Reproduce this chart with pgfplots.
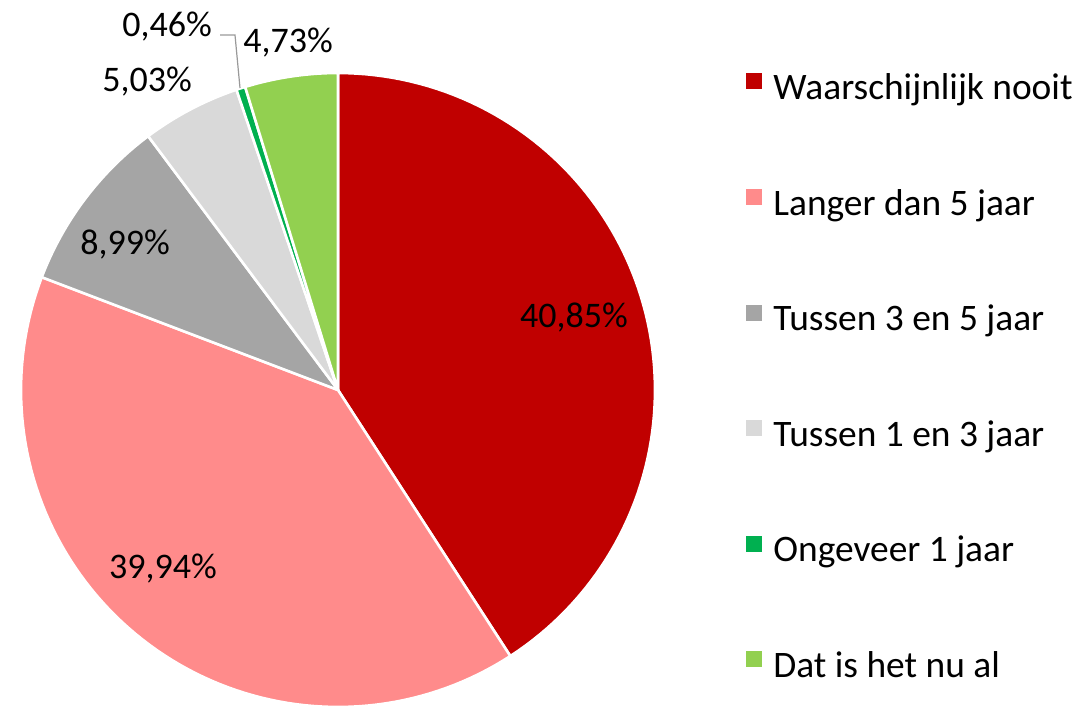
\documentclass[border=0pt]{standalone}
\usepackage{fontspec}
\setmainfont{Carlito}
\usepackage{pgfplots}
\pgfplotsset{compat=1.18}
\definecolor{c1}{HTML}{C00000}
\definecolor{c2}{HTML}{FF8B8B}
\definecolor{c3}{HTML}{A5A5A5}
\definecolor{c4}{HTML}{D9D9D9}
\definecolor{c5}{HTML}{00B050}
\definecolor{c6}{HTML}{92D050}
\def\cum{0}
\newcommand\pieslice[3]{%
  \pgfmathsetmacro\aS{90-3.6*\cum}%
  \pgfmathsetmacro\aE{90-3.6*(\cum+#1)}%
  \edef\doplot{\noexpand\addplot[fill=#2, draw=white, line width=1.3pt, line join=round, domain=\aE:\aS, samples=90]}%
  \doplot ({338+317*cos(x)},{318+317*sin(x)}) -- (axis cs:338,318) -- cycle;
  \addlegendentry{#3}%
  \pgfmathsetmacro\newcum{\cum+#1}\xdef\cum{\newcum}}
\begin{document}
\begin{tikzpicture}
\begin{axis}[
  x=0.5pt, y=0.5pt, scale only axis,
  xmin=0, xmax=1081, ymin=0, ymax=708,
  hide axis, clip=false,
  legend cell align=left,
  legend image code/.code={\path[#1, draw=none] (0pt,1.5pt) rectangle (8pt,9.5pt);},
  legend style={at={(axis cs:746,635)}, anchor=north west, draw=none, fill=none,
    inner sep=0pt, row sep=39.8pt, column sep=5.5pt,
    font=\fontsize{18.7}{22.4}\selectfont,
    nodes={inner sep=0pt, text height=12pt, text depth=5pt}},
]
\pieslice{40.85}{c1}{Waarschijnlijk nooit}
\pieslice{39.94}{c2}{Langer dan 5 jaar}
\pieslice{8.99}{c3}{Tussen 3 en 5 jaar}
\pieslice{5.03}{c4}{Tussen 1 en 3 jaar}
\pieslice{0.46}{c5}{Ongeveer 1 jaar}
\pieslice{4.73}{c6}{Dat is het nu al}
\begin{scope}[every node/.style={font=\fontsize{18}{21.6}\selectfont, anchor=base, inner sep=0pt}]
\node at (axis cs:574,381) {40,85\%};
\node at (axis cs:163,130) {39,94\%};
\node at (axis cs:125,454) {8,99\%};
\node at (axis cs:147,616) {5,03\%};
\node at (axis cs:167,671) {0,46\%};
\node at (axis cs:288,655) {4,73\%};
\end{scope}
\draw[gray!80, line width=0.6pt] (axis cs:220,673) -- (axis cs:235,673) -- (axis cs:240,620);
\end{axis}
\pgfresetboundingbox
\path (0,0) rectangle (540.5pt,354pt);
\end{tikzpicture}
\end{document}
